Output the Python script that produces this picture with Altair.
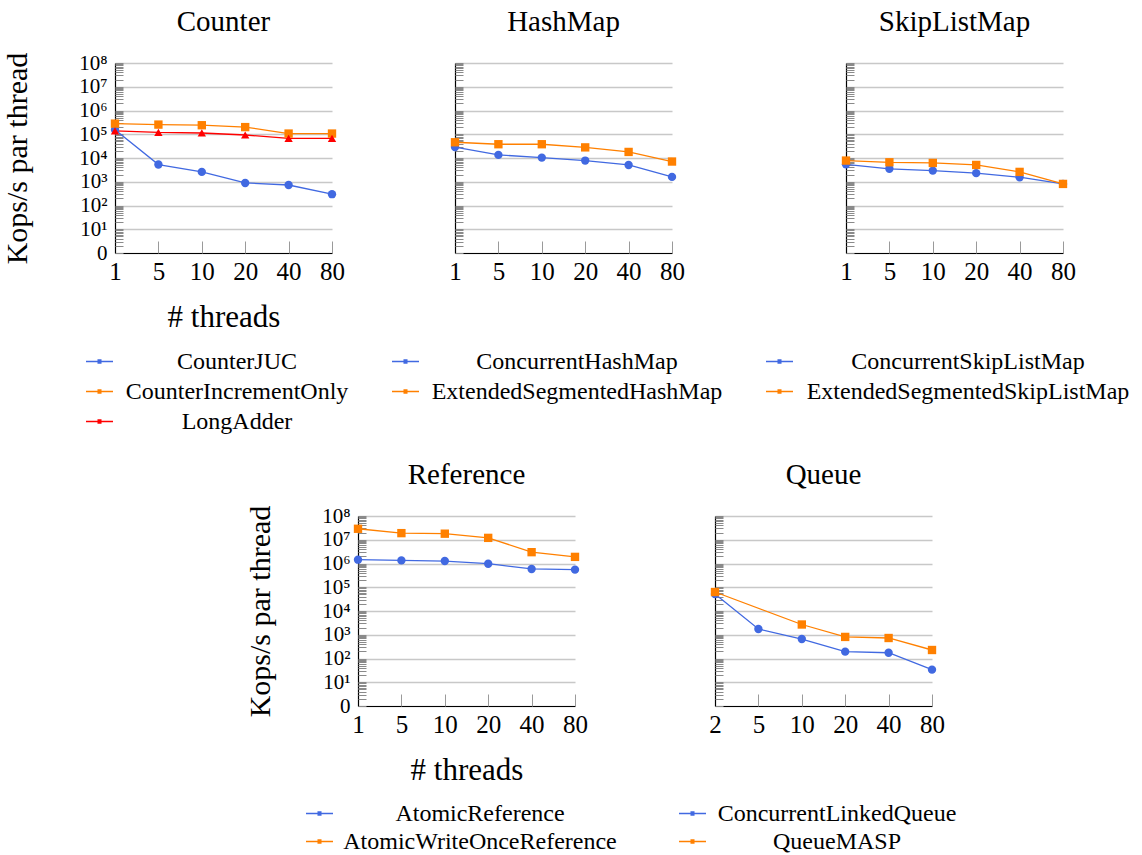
import altair as alt
import pandas as pd

# ---------------- data ----------------
threads = ["1", "5", "10", "20", "40", "80"]
threads_queue = ["2", "5", "10", "20", "40", "80"]

counter_juc = [1.55e5, 5.3e3, 2.6e3, 890, 730, 300]
counter_increment_only = [2.8e5, 2.55e5, 2.4e5, 2.0e5, 1.07e5, 1.07e5]
long_adder = [1.4e5, 1.2e5, 1.13e5, 9.3e4, 6.7e4, 6.7e4]

concurrent_hash_map = [2.9e4, 1.35e4, 1.04e4, 7.8e3, 5.1e3, 1.6e3]
extended_segmented_hash_map = [4.6e4, 3.8e4, 3.8e4, 2.8e4, 1.8e4, 7.1e3]

concurrent_skip_list_map = [5.4e3, 3.5e3, 2.95e3, 2.3e3, 1.55e3, 810]
extended_segmented_skip_list_map = [7.8e3, 6.6e3, 6.2e3, 5.1e3, 2.6e3, 810]

atomic_reference = [1.45e6, 1.35e6, 1.27e6, 9.8e5, 5.9e5, 5.5e5]
atomic_write_once_reference = [2.9e7, 1.9e7, 1.8e7, 1.2e7, 3.0e6, 1.9e6]

concurrent_linked_queue = [5.2e4, 1.75e3, 660, 194, 175, 34]
queue_masp = [6.3e4, None, 2.7e3, 810, 730, 228]

y_tick_labels = ["0", "10¹", "10²", "10³", "10⁴", "10⁵", "10⁶", "10⁷", "10⁸"]

BLUE = "#4169e1"
ORANGE = "#ff8000"
RED = "#ff0000"

FONT = "Liberation Serif"
W, H = 217, 190

major_vals = [10 ** k for k in range(9)]
minor_vals = [m * 10 ** k for k in range(8) for m in range(1, 10)] + [1e8]
label_expr = "[" + ",".join("'%s'" % s for s in y_tick_labels) + "][round(log(datum.value)/LN10)]"

LEGEND_PATH = "M-1,-0.05H1V0.05H-1Z M-0.15,-0.16H0.15V0.16H-0.15Z"


def panel(title, xs, series, show_y, show_x_title, legend_x, legend_offset, legend_y, row_pad):
    rows = []
    for name, vals, color, shape in series:
        for t, v in zip(xs, vals):
            if v is not None:
                rows.append({"threads": t, "value": v, "series": name, "mk": shape})
    df = pd.DataFrame(rows)
    names = [s[0] for s in series]
    colors = [s[2] for s in series]

    xscale = alt.Scale(type="point", domain=xs, padding=0)
    yscale = alt.Scale(type="log", domain=[1, 1e8], nice=False)

    main_y_axis = alt.Axis(
        orient="left", values=major_vals, labelExpr=label_expr, labels=show_y,
        labelOverlap=False,
        grid=True, gridColor="#c8c8c8", gridWidth=1.4, ticks=False,
        domainColor="black", domainWidth=1.2,
        title="Kops/s par thread" if show_y else None,
        labelFont=FONT, labelFontSize=21, labelColor="black", labelPadding=8,
        titleFont=FONT, titleFontSize=30, titleFontWeight="normal", titleColor="black",
        titlePadding=46,
    )
    minor_y_axis = alt.Axis(
        orient="right", offset=-W, values=minor_vals, labels=False, grid=False,
        domain=False, ticks=True, tickSize=8, tickColor="#8a8a8a", tickWidth=1, title=None,
    )
    main_x_axis = alt.Axis(
        orient="bottom", labels=True, ticks=False, grid=False, labelAngle=0,
        domainColor="black", domainWidth=1.2,
        labelFont=FONT, labelFontSize=25, labelColor="black", labelPadding=6,
        title="# threads" if show_x_title else None,
        titleFont=FONT, titleFontSize=31, titleFontWeight="normal", titleColor="black",
        titlePadding=18,
    )
    inner_x_axis = alt.Axis(
        orient="top", offset=-H, labels=False, grid=False, domain=False, ticks=True,
        tickSize=12, tickColor="#9a9a9a", tickWidth=1, title=None,
    )

    lines = alt.Chart(df).mark_line(strokeWidth=1.3).encode(
        x=alt.X("threads:O", scale=xscale, axis=main_x_axis),
        y=alt.Y("value:Q", scale=yscale, axis=main_y_axis),
        stroke=alt.Stroke("series:N",
                          scale=alt.Scale(domain=names[::-1], range=colors[::-1]),
                          legend=None),
        detail="series:N",
    )
    points = alt.Chart(df).mark_point(filled=True, opacity=1, size=70).encode(
        x=alt.X("threads:O", scale=xscale, axis=inner_x_axis),
        y=alt.Y("value:Q", scale=yscale, axis=minor_y_axis),
        color=alt.Color(
            "series:N", scale=alt.Scale(domain=names, range=colors),
            legend=alt.Legend(
                orient="none", legendX=legend_x, legendY=legend_y, direction="vertical",
                title=None, symbolType=LEGEND_PATH, symbolSize=729, symbolStrokeWidth=0,
                symbolOpacity=1, labelAlign="center", labelOffset=legend_offset,
                labelFont=FONT, labelFontSize=24, labelColor="black", labelLimit=1000,
                rowPadding=row_pad, padding=0,
            ),
        ),
        shape=alt.Shape("mk:N", scale=alt.Scale(domain=["circle", "square", "triangle-up"],
                                                 range=["circle", "square", "triangle-up"]),
                        legend=None),
    )
    return (
        alt.layer(lines, points)
        .resolve_axis(x="independent", y="independent")
        .properties(
            width=W, height=H,
            title=alt.TitleParams(title, font=FONT, fontSize=29, fontWeight="normal",
                                  color="black", anchor="middle",
                                  offset=15 if show_y else 25.5),
        )
    )


def spacer(w):
    return alt.Chart(pd.DataFrame({"a": [0]})).mark_point(opacity=0).properties(width=w, height=H)


counter = panel("Counter", threads, [
    ("CounterJUC", counter_juc, BLUE, "circle"),
    ("CounterIncrementOnly", counter_increment_only, ORANGE, "square"),
    ("LongAdder", long_adder, RED, "triangle-up"),
], True, True, -29, 124, 285, 4)

hashmap = panel("HashMap", threads, [
    ("ConcurrentHashMap", concurrent_hash_map, BLUE, "circle"),
    ("ExtendedSegmentedHashMap", extended_segmented_hash_map, ORANGE, "square"),
], False, False, -63, 158, 285, 4)

skiplist = panel("SkipListMap", threads, [
    ("ConcurrentSkipListMap", concurrent_skip_list_map, BLUE, "circle"),
    ("ExtendedSegmentedSkipListMap", extended_segmented_skip_list_map, ORANGE, "square"),
], False, False, -80, 175, 285, 4)

reference = panel("Reference", threads, [
    ("AtomicReference", atomic_reference, BLUE, "circle"),
    ("AtomicWriteOnceReference", atomic_write_once_reference, ORANGE, "square"),
], True, True, -52, 147, 284, 2)

queue = panel("Queue", threads_queue, [
    ("ConcurrentLinkedQueue", concurrent_linked_queue, BLUE, "circle"),
    ("QueueMASP", queue_masp, ORANGE, "square"),
], False, False, -36, 131, 284, 2)

res = dict(x="independent", y="independent", color="independent",
           stroke="independent", shape="independent")

row1 = alt.hconcat(counter, spacer(123), hashmap, spacer(174), skiplist,
                   spacing=0, bounds="flush").resolve_scale(**res)
row2 = alt.hconcat(spacer(243), reference, spacer(140), queue,
                   spacing=0, bounds="flush").resolve_scale(**res)

chart = (
    alt.vconcat(row1, row2, spacing=453, bounds="flush")
    .resolve_scale(**res)
    .properties(padding={"left": 2, "top": 8, "right": 5, "bottom": 5}, background="white")
    .configure_view(stroke=None)
)

chart.save("out.html", embed_options={"renderer": "svg", "actions": False})
